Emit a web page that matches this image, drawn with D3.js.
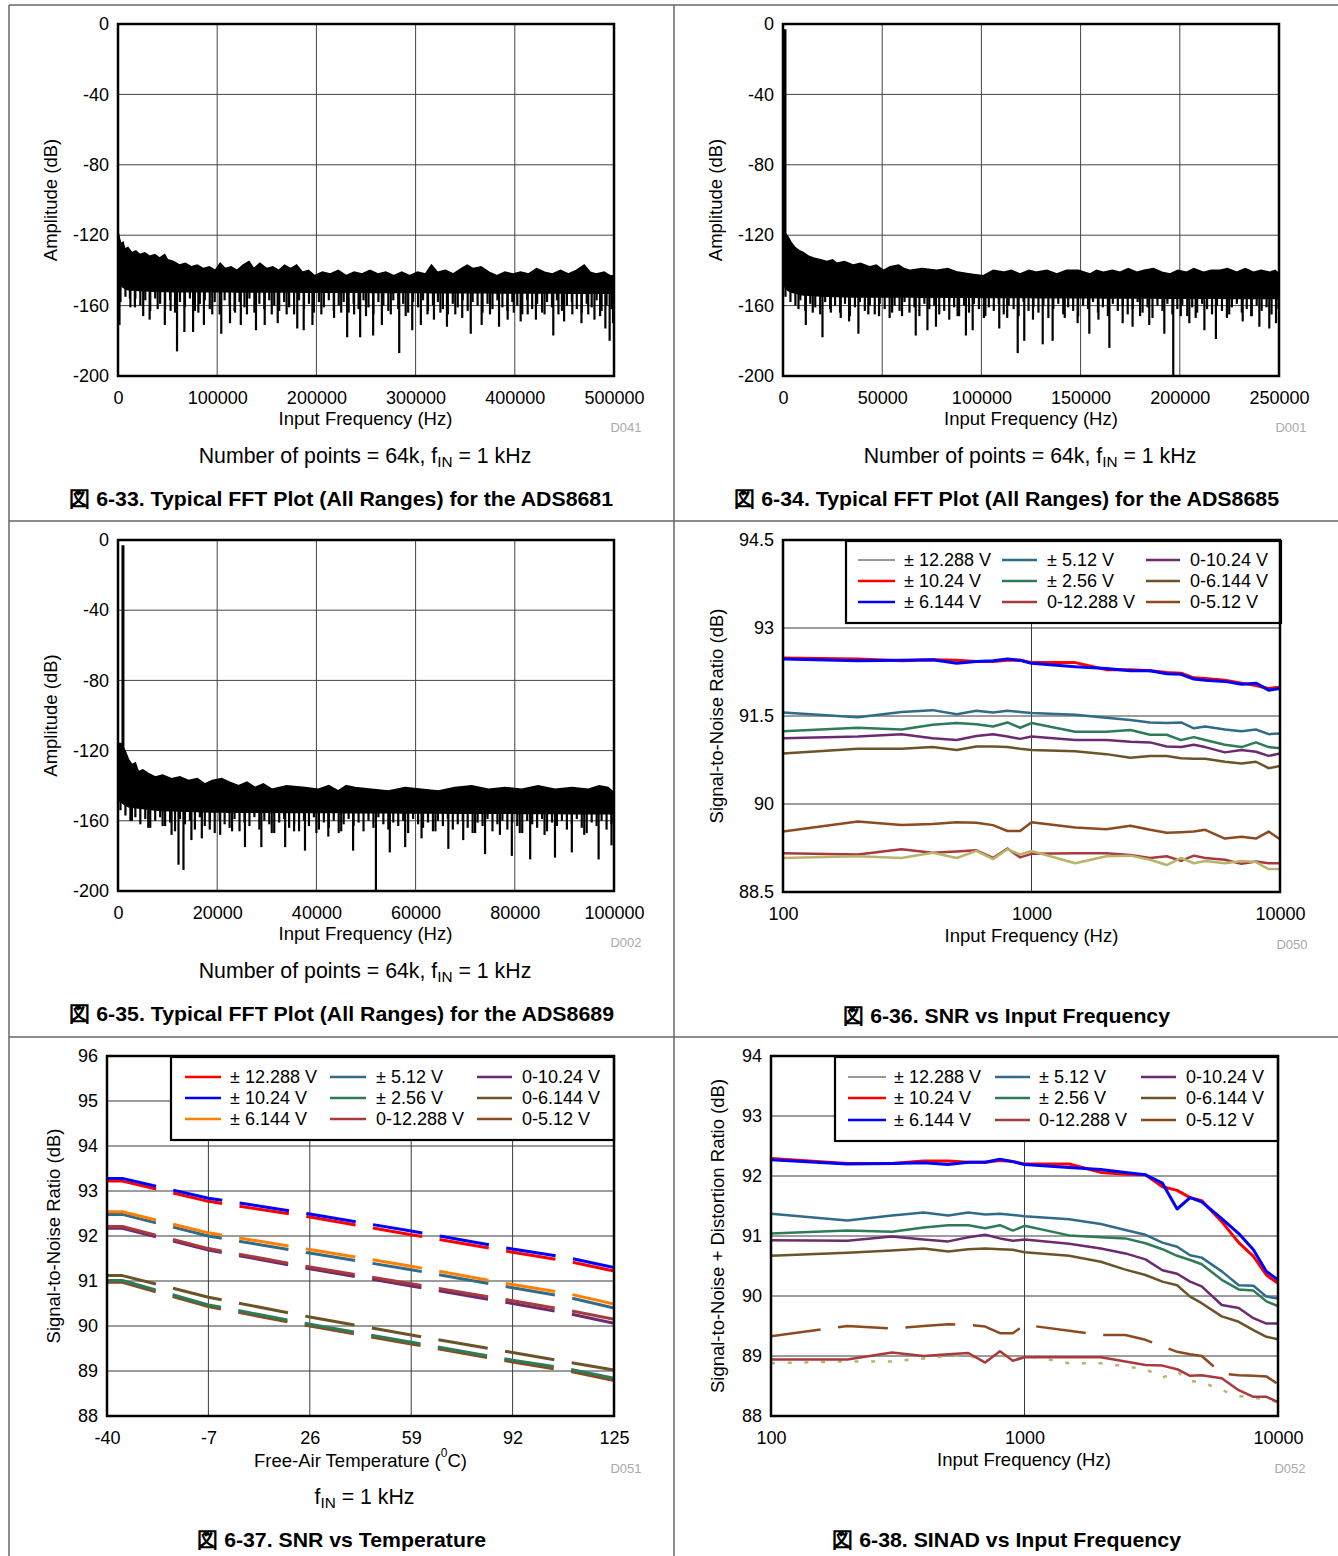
<!DOCTYPE html>
<html><head><meta charset="utf-8">
<script src="https://cdn.jsdelivr.net/npm/d3@7"></script>
<style>
body{margin:0;background:#fff}
svg{display:block;font-family:"Liberation Sans",Arial,Helvetica,sans-serif}
</style></head><body>
<svg id="c" width="1338" height="1556"></svg>
<script>
// ---------------- DATA ----------------
// FFT ADS8681 (0-500 kHz): [frequency Hz, dB]
const fft8681Top = [[0,-118],[1500,-122],[3000,-125],[5000,-124],[7000,-128],[10000,-127],[14000,-130],[18000,-129],[22000,-131],[27000,-130],[32000,-132],[37000,-131],[42000,-133],[47000,-131],[50000,-134],[56000,-135],[62000,-137],[68000,-136],[74000,-138],[80000,-137],[86000,-139],[92000,-138],[98000,-140],[103000,-136],[108000,-139],[114000,-138],[120000,-140],[126000,-137],[132000,-135],[137000,-139],[143000,-136],[150000,-139],[156000,-138],[162000,-140],[168000,-137],[174000,-139],[180000,-137],[186000,-141],[192000,-140],[198000,-143],[206000,-141],[214000,-142],[222000,-140],[230000,-143],[238000,-141],[246000,-142],[254000,-140],[262000,-142],[270000,-141],[278000,-143],[286000,-141],[294000,-143],[302000,-141],[310000,-142],[316000,-137],[322000,-141],[330000,-140],[338000,-142],[346000,-139],[352000,-137],[358000,-139],[366000,-138],[374000,-141],[382000,-143],[390000,-141],[398000,-142],[406000,-141],[414000,-142],[422000,-139],[430000,-141],[438000,-142],[446000,-140],[454000,-142],[462000,-140],[470000,-137],[476000,-141],[482000,-142],[490000,-141],[496000,-143],[500000,-143]];
const fft8681Solid = [[0,-148],[10000,-151],[40000,-152],[500000,-153]];
const fft8681BinStep = 5000;
const fft8681Bins = [-158,-155,-161,-156,-160,-157,-163,-156,-159,-162,-157,-164,-158,-161,-156,-163,-159,-157,-162,-158,-165,-157,-160,-163,-158,-161,-156,-164,-159,-162,-157,-160,-163,-158,-161,-165,-157,-162,-159,-164,-158,-161,-157,-163,-160,-158,-164,-159,-162,-157,-161,-165,-158,-160,-163,-157,-162,-159,-164,-158,-161,-157,-163,-160,-158,-162,-165,-159,-161,-157,-163,-158,-160,-164,-159,-162,-157,-161,-163,-158,-160,-165,-157,-162,-159,-164,-158,-161,-157,-163,-160,-158,-162,-164,-159,-161,-157,-163,-160,-162];
const fft8681Spikes = [[1500,-171],[12000,-156],[17000,-161],[25400,-166],[31900,-168],[40000,-162],[47200,-171],[53000,-163],[59500,-186],[66900,-175],[75700,-175],[81000,-164],[86600,-171],[95000,-165],[104100,-176],[112900,-170],[118000,-164],[123800,-171],[130000,-165],[139100,-174],[147900,-171],[155000,-165],[161000,-170],[170000,-165],[180700,-173],[187200,-174],[196000,-171],[205000,-165],[217800,-167],[225000,-164],[231000,-178],[238000,-165],[244100,-178],[250000,-166],[257200,-177],[266000,-171],[275000,-165],[283500,-187],[290000,-166],[296600,-174],[305300,-171],[312000,-165],[318500,-168],[325000,-164],[331600,-172],[340000,-165],[347000,-167],[355600,-176],[366600,-171],[375000,-165],[384100,-172],[392800,-168],[399000,-164],[405900,-169],[413000,-165],[421300,-168],[430000,-165],[438800,-177],[444000,-165],[449700,-169],[458000,-165],[467200,-170],[474000,-165],[480300,-168],[486000,-166],[491300,-173],[495600,-180],[499000,-170]];

// FFT ADS8685 (0-250 kHz)
const fft8685Top = [[0,-119],[1200,-119],[2500,-121],[4000,-124],[6000,-127],[8500,-129],[10300,-130],[13000,-132],[15300,-133],[19000,-134],[22100,-135],[25000,-134],[27100,-136],[31000,-135],[35500,-137],[39000,-136],[43900,-138],[47000,-137],[50600,-140],[54000,-138],[58300,-137],[61000,-139],[64200,-140],[70000,-139],[77500,-140],[83000,-139],[88000,-141],[94300,-142],[101000,-143],[106000,-140],[111100,-141],[115000,-140],[119500,-142],[124000,-140],[127900,-141],[133000,-140],[138000,-142],[143000,-140],[148900,-140],[154800,-142],[158000,-140],[161500,-141],[166000,-140],[169900,-141],[174000,-139],[178300,-141],[182000,-140],[186700,-139],[191000,-141],[195100,-142],[199000,-140],[203500,-141],[207000,-139],[211900,-141],[216000,-140],[220300,-140],[224000,-139],[228700,-141],[233000,-139],[237100,-141],[241000,-140],[245500,-141],[248000,-140],[250000,-142]];
const fft8685Solid = [[0,-148],[3000,-152],[10000,-154],[30000,-155],[250000,-156]];
const fft8685BinStep = 2500;
const fft8685Bins = [-155,-158,-160,-157,-163,-159,-161,-165,-158,-162,-160,-164,-159,-166,-161,-158,-163,-160,-165,-159,-162,-167,-160,-163,-158,-164,-161,-166,-159,-162,-160,-165,-163,-158,-161,-166,-160,-164,-159,-162,-167,-161,-163,-159,-165,-160,-162,-166,-158,-163,-161,-164,-160,-167,-162,-159,-165,-161,-163,-166,-160,-162,-158,-164,-161,-166,-159,-163,-160,-165,-162,-158,-164,-161,-167,-160,-163,-159,-165,-162,-160,-166,-161,-164,-159,-162,-165,-160,-163,-167,-161,-159,-164,-162,-166,-160,-163,-161,-165,-162];
const fft8685Spikes = [[1500,-147],[7800,-162],[11500,-171],[15000,-164],[19900,-178],[24100,-164],[29100,-167],[33300,-169],[38000,-176],[43000,-165],[48400,-166],[55000,-164],[60000,-166],[66900,-177],[72800,-174],[77100,-172],[83800,-168],[88000,-166],[92200,-177],[95600,-174],[102000,-166],[109000,-173],[113000,-167],[118300,-187],[121600,-180],[126000,-168],[130900,-182],[135900,-180],[142000,-167],[148500,-170],[154400,-176],[159000,-168],[164500,-184],[171200,-170],[176200,-172],[180000,-166],[184600,-171],[192200,-176],[196700,-200],[200500,-166],[204800,-170],[208000,-167],[212400,-174],[218200,-179],[224900,-165],[231700,-169],[236000,-166],[240100,-172],[245100,-173],[248500,-170]];

// FFT ADS8689 (0-100 kHz)
const fft8689Top = [[0,-116],[600,-116],[1000,-118],[1400,-120],[2100,-125],[2800,-128],[3500,-127],[4100,-132],[5000,-131],[6100,-133],[7500,-135],[9000,-134],[10800,-136],[12500,-135],[14200,-137],[16000,-136],[17500,-139],[19000,-137],[20900,-136],[22500,-138],[24300,-140],[26000,-138],[27600,-141],[29300,-139],[31000,-142],[34000,-140],[37700,-141],[40400,-142],[42500,-140],[44400,-143],[46000,-140],[47800,-141],[51100,-142],[54500,-143],[57900,-141],[61200,-142],[64600,-143],[67900,-141],[71300,-140],[74700,-142],[78000,-141],[81400,-142],[84700,-140],[88100,-142],[91500,-141],[94800,-142],[97000,-140],[98800,-141],[100000,-144]];
const fft8689Solid = [[0,-148],[2000,-152],[8000,-154],[20000,-155],[100000,-156]];
const fft8689BinStep = 1000;
const fft8689Bins = [-154,-157,-160,-158,-162,-159,-164,-160,-158,-163,-161,-166,-159,-162,-160,-165,-158,-163,-161,-167,-160,-162,-164,-159,-166,-161,-163,-158,-165,-160,-162,-167,-161,-159,-164,-162,-166,-160,-163,-158,-165,-161,-164,-160,-167,-162,-159,-163,-161,-166,-160,-164,-158,-162,-165,-161,-163,-160,-167,-159,-162,-164,-161,-166,-160,-163,-159,-165,-162,-160,-164,-167,-161,-163,-159,-166,-162,-160,-165,-161,-163,-167,-160,-162,-164,-159,-166,-161,-163,-160,-165,-162,-159,-164,-167,-161,-163,-160,-165,-162];
const fft8689Spikes = [[2800,-160],[6100,-164],[9000,-163],[10800,-168],[12200,-185],[13200,-188],[14800,-171],[16900,-170],[18500,-165],[20600,-168],[23000,-166],[25600,-175],[28900,-175],[31000,-167],[33700,-175],[35500,-166],[37700,-177],[40000,-167],[42400,-169],[45000,-166],[47400,-177],[52000,-200],[54800,-178],[57900,-175],[61200,-170],[64000,-166],[66600,-176],[69600,-171],[72000,-167],[74000,-179],[77000,-168],[79400,-180],[81000,-167],[83100,-182],[86000,-168],[88100,-181],[91500,-178],[94000,-168],[96900,-182],[99500,-174]];
const fftSignal = [1000, -3]; // fundamental tone

const fftYTicks = [0,-40,-80,-120,-160,-200];
const fft8681XTicks = [0,100000,200000,300000,400000,500000];
const fft8685XTicks = [0,50000,100000,150000,200000,250000];
const fft8689XTicks = [0,20000,40000,60000,80000,100000];

// Range labels (legend)
const rangeLabels = ['± 12.288 V','± 10.24 V','± 6.144 V','± 5.12 V','± 2.56 V','0-12.288 V','0-10.24 V','0-6.144 V','0-5.12 V'];

// SNR vs input frequency
const freqs = [100,200,300,400,500,600,700,800,900,1000,1500,2000,2500,3000,3500,4000,4500,5000,6000,7000,8000,9000,10000];
const snrFreqTicks = [100,1000,10000];
const snrYTicks = [88.5,90,91.5,93,94.5];
const snr_pm10_24 = [92.49,92.47,92.44,92.46,92.45,92.43,92.43,92.45,92.45,92.41,92.41,92.29,92.29,92.27,92.24,92.23,92.15,92.14,92.11,92.06,92.02,91.97,91.99];
const snr_pm6_144 = [92.47,92.44,92.45,92.46,92.40,92.43,92.44,92.47,92.45,92.40,92.34,92.31,92.27,92.27,92.22,92.21,92.13,92.11,92.09,92.04,92.06,91.94,91.97];
const snr_pm5_12 = [91.56,91.48,91.57,91.60,91.53,91.59,91.56,91.59,91.57,91.55,91.52,91.47,91.43,91.39,91.38,91.39,91.29,91.32,91.27,91.24,91.27,91.19,91.20];
const snr_pm2_56 = [91.24,91.30,91.27,91.35,91.38,91.36,91.32,91.39,91.30,91.38,91.23,91.23,91.26,91.18,91.18,91.09,91.14,91.09,91.01,90.97,91.05,90.97,90.95];
const snr_0_10_24 = [91.12,91.15,91.19,91.12,91.09,91.16,91.19,91.15,91.11,91.15,91.09,91.09,91.06,91.05,90.98,90.97,91.01,90.97,90.88,90.92,90.89,90.82,90.86];
const snr_0_6_144 = [90.86,90.94,90.94,90.97,90.92,90.98,90.98,90.97,90.94,90.92,90.90,90.85,90.79,90.82,90.82,90.78,90.77,90.77,90.72,90.69,90.72,90.61,90.65];
const snr_0_5_12 = [89.53,89.70,89.64,89.66,89.69,89.68,89.64,89.54,89.54,89.69,89.60,89.57,89.63,89.56,89.51,89.52,89.53,89.56,89.41,89.44,89.41,89.53,89.40];
const snr_0_12_288 = [89.16,89.14,89.23,89.17,89.19,89.21,89.08,89.24,89.09,89.15,89.16,89.16,89.13,89.08,89.11,89.03,89.12,89.08,89.05,88.98,89.02,88.99,88.99];
const snr_khaki = [89.08,89.11,89.08,89.17,89.08,89.20,89.06,89.23,89.14,89.20,88.99,89.11,89.12,89.05,88.96,89.08,88.99,89.03,88.99,89.03,89.01,88.89,88.89];

// SNR vs temperature
const temps = [-40,-35,-7,26,59,92,110,125];
const tempTicks = [-40,-7,26,59,92,125];
const tempYTicks = [88,89,90,91,92,93,94,95,96];
const t_pm12_288 = [93.22,93.22,92.77,92.42,92.03,91.64,91.44,91.22];
const t_pm10_24 = [93.28,93.28,92.84,92.49,92.11,91.71,91.52,91.30];
const t_pm6_144 = [92.54,92.54,92.07,91.70,91.33,90.92,90.72,90.49];
const t_pm5_12 = [92.48,92.48,92.00,91.62,91.25,90.85,90.64,90.40];
const t_pm2_56 = [91.01,91.01,90.47,90.04,89.64,89.24,89.05,88.84];
const t_0_12_288 = [92.21,92.21,91.72,91.31,90.94,90.56,90.35,90.15];
const t_0_10_24 = [92.17,92.17,91.69,91.27,90.89,90.50,90.28,90.06];
const t_0_6_144 = [91.12,91.12,90.64,90.20,89.80,89.41,89.20,89.02];
const t_0_5_12 = [90.97,90.97,90.43,90.00,89.60,89.20,89.00,88.79];

// SINAD vs input frequency
const sinadYTicks = [88,89,90,91,92,93,94];
const sinad_pm10_24 = [92.29,92.21,92.21,92.25,92.25,92.23,92.23,92.26,92.24,92.20,92.20,92.06,92.03,92.02,91.82,91.76,91.64,91.59,91.24,90.89,90.66,90.35,90.21];
const sinad_pm6_144 = [92.27,92.20,92.21,92.22,92.19,92.23,92.23,92.28,92.24,92.19,92.14,92.11,92.06,92.02,91.88,91.45,91.64,91.57,91.29,91.04,90.77,90.41,90.27];
const sinad_pm5_12 = [91.37,91.26,91.34,91.39,91.34,91.39,91.36,91.37,91.35,91.33,91.28,91.20,91.10,91.02,90.89,90.82,90.68,90.64,90.41,90.18,90.17,89.99,89.96];
const sinad_pm2_56 = [91.04,91.09,91.07,91.14,91.18,91.18,91.13,91.18,91.09,91.17,91.01,90.98,90.96,90.88,90.78,90.67,90.60,90.53,90.27,90.11,90.09,89.91,89.83];
const sinad_0_10_24 = [90.93,90.92,90.99,90.94,90.91,90.98,91.02,90.96,90.92,90.94,90.87,90.79,90.71,90.61,90.43,90.37,90.24,90.16,89.85,89.80,89.63,89.54,89.54];
const sinad_0_6_144 = [90.67,90.72,90.76,90.79,90.74,90.78,90.79,90.78,90.77,90.73,90.67,90.57,90.44,90.35,90.24,90.18,89.99,89.88,89.66,89.57,89.43,89.32,89.28];
const sinad_0_5_12 = [89.33,89.50,89.46,89.50,89.53,89.52,89.49,89.38,89.38,89.52,89.42,89.35,89.35,89.27,89.16,89.07,89.03,89.00,88.71,88.68,88.67,88.66,88.53];
const sinad_0_12_288 = [88.94,88.94,89.06,89.00,89.03,89.05,88.89,89.08,88.92,88.98,88.98,88.98,88.91,88.85,88.84,88.78,88.67,88.68,88.63,88.43,88.32,88.32,88.23];
const sinad_khaki = [88.88,88.91,88.91,88.96,89.00,89.01,88.91,89.03,88.92,89.01,88.88,88.88,88.83,88.78,88.64,88.74,88.58,88.57,88.43,88.33,88.31,88.26,88.24];

// ---------------- STYLE ----------------
const COL = {thin:'#333', red:'#ff0000', blue:'#0000ff', orange:'#ff8000', teal:'#306b8a', green:'#2d7b57',
  redBrown:'#a83a3e', purple:'#6c2b70', olive:'#6b5427', brown:'#8b4a1f', khaki:'#b9b46c'};
const FONT = '"Liberation Sans", Arial, Helvetica, sans-serif';
const svg = d3.select('#c');

function txt(g, x, y, s, o = {}) {
  const t = g.append('text').attr('x', x).attr('y', y).attr('font-size', o.size || 18)
    .attr('text-anchor', o.anchor || 'middle').attr('dominant-baseline', 'central')
    .attr('fill', o.fill || '#000').text(s);
  if (o.bold) t.attr('font-weight', 'bold');
  if (o.len) t.attr('textLength', o.len).attr('lengthAdjust', 'spacingAndGlyphs');
  if (o.rot) t.attr('transform', `rotate(-90,${x},${y})`);
  return t;
}
function finText(g, x, y, prefix, size) {
  const t = g.append('text').attr('x', x).attr('y', y).attr('font-size', size)
    .attr('text-anchor', 'middle').attr('dominant-baseline', 'central');
  t.append('tspan').text(prefix + 'f');
  t.append('tspan').attr('font-size', size * 0.72).attr('dy', 5).text('IN');
  t.append('tspan').attr('dy', -5).text(' = 1 kHz');
}

// page frame / dividers
const fr = svg.append('g').attr('stroke', '#666').attr('stroke-width', 1.5);
fr.append('line').attr('x1', 9).attr('x2', 1338).attr('y1', 5).attr('y2', 5);
fr.append('line').attr('x1', 9).attr('x2', 9).attr('y1', 5).attr('y2', 1556);
fr.append('line').attr('x1', 674).attr('x2', 674).attr('y1', 5).attr('y2', 1556);
fr.append('line').attr('x1', 9).attr('x2', 1338).attr('y1', 521).attr('y2', 521);
fr.append('line').attr('x1', 9).attr('x2', 1338).attr('y1', 1037).attr('y2', 1037);

let clipN = 0;
function clip(p) {
  const id = 'cl' + (clipN++);
  svg.append('clipPath').attr('id', id).append('rect').attr('x', p.l).attr('y', p.t)
    .attr('width', p.r - p.l).attr('height', p.b - p.t);
  return `url(#${id})`;
}
function axes(g, p, x, y, xt, yt) {
  const ya = g.append('g').attr('transform', `translate(${p.l},0)`)
    .call(d3.axisLeft(y).tickValues(yt).tickSize(0).tickPadding(9).tickFormat(d => String(d)));
  ya.select('.domain').remove();
  ya.attr('font-family', FONT).attr('font-size', 18);
  const xa = g.append('g').attr('transform', `translate(0,${p.b})`)
    .call(d3.axisBottom(x).tickValues(xt).tickSize(0).tickPadding(15).tickFormat(d => String(d)));
  xa.select('.domain').remove();
  xa.attr('font-family', FONT).attr('font-size', 18);
}
function grid(g, p, x, y, gx, gy, color) {
  g.append('g').selectAll('line').data(gy).join('line')
    .attr('x1', p.l).attr('x2', p.r).attr('y1', d => y(d)).attr('y2', d => y(d))
    .attr('stroke', color || '#333').attr('stroke-width', 1);
  g.append('g').selectAll('line').data(gx).join('line')
    .attr('y1', p.t).attr('y2', p.b).attr('x1', d => x(d)).attr('x2', d => x(d))
    .attr('stroke', color || '#333').attr('stroke-width', 1);
}
function border(g, p) {
  g.append('rect').attr('x', p.l).attr('y', p.t).attr('width', p.r - p.l).attr('height', p.b - p.t)
    .attr('fill', 'none').attr('stroke', '#000').attr('stroke-width', 2.5);
}

// ---------------- FFT PANELS ----------------
function fftPanel(p) {
  const g = svg.append('g');
  const x = d3.scaleLinear().domain([0, p.xmax]).range([p.l, p.r]);
  const y = d3.scaleLinear().domain([-200, 0]).range([p.b, p.t]);
  grid(g, p, x, y, p.xt.slice(1, -1), [-40, -80, -120, -160], '#444');
  const dg = g.append('g').attr('clip-path', clip(p));
  const solidAt = d3.scaleLinear().domain(p.solid.map(d => d[0])).range(p.solid.map(d => d[1])).clamp(true);
  const area = d3.area().x(d => x(d[0])).y0(d => y(solidAt(d[0]))).y1(d => y(d[1]));
  dg.append('path').datum(p.top).attr('d', area).attr('fill', '#000').attr('stroke', '#000')
    .attr('stroke-width', 1.6).attr('stroke-linejoin', 'miter');
  const bins = p.bins.map((v, i) => [i * p.step + p.step / 2, v]);
  dg.selectAll('line.bn').data(bins).join('line').attr('class', 'bn')
    .attr('x1', d => x(d[0])).attr('x2', d => x(d[0]))
    .attr('y1', d => y(solidAt(d[0]) + 2)).attr('y2', d => y(d[1]))
    .attr('stroke', '#000').attr('stroke-width', 2.2);
  dg.selectAll('line.sp').data(p.spikes).join('line').attr('class', 'sp')
    .attr('x1', d => x(d[0])).attr('x2', d => x(d[0]))
    .attr('y1', d => y(solidAt(d[0]) + 2)).attr('y2', d => y(d[1]))
    .attr('stroke', '#000').attr('stroke-width', 2.2);
  if (p.signal) {
    dg.append('line').attr('x1', x(fftSignal[0])).attr('x2', x(fftSignal[0]))
      .attr('y1', y(fftSignal[1])).attr('y2', y(solidAt(fftSignal[0])))
      .attr('stroke', '#000').attr('stroke-width', 3);
  }
  border(g, p);
  axes(g, p, x, y, p.xt, fftYTicks);
  txt(g, p.ytx, (p.t + p.b) / 2, 'Amplitude (dB)', {rot: true, size: 18.5});
  txt(g, p.xtc, p.b + 42, 'Input Frequency (Hz)', {size: 18.5});
  txt(g, p.r + 12, p.b + 51, p.code, {size: 13, fill: '#aaa'});
  finText(g, p.notec, p.b + 80, 'Number of points = 64k, ', 21.3);
  txt(g, p.capc, p.b + 122, p.caption, {bold: true, size: 21, len: p.caplen});
}
fftPanel({l: 118, r: 614, t: 24, b: 376, xmax: 500000, xt: fft8681XTicks, top: fft8681Top, solid: fft8681Solid,
  step: fft8681BinStep, bins: fft8681Bins,
  spikes: fft8681Spikes, signal: false, ytx: 50, xtc: 365.5, code: 'D041', notec: 365, capc: 341, caplen: 544,
  caption: '図 6-33. Typical FFT Plot (All Ranges) for the ADS8681'});
fftPanel({l: 783, r: 1279, t: 24, b: 376, xmax: 250000, xt: fft8685XTicks, top: fft8685Top, solid: fft8685Solid,
  step: fft8685BinStep, bins: fft8685Bins,
  spikes: fft8685Spikes, signal: true, ytx: 715, xtc: 1031, code: 'D001', notec: 1030, capc: 1006.5, caplen: 545,
  caption: '図 6-34. Typical FFT Plot (All Ranges) for the ADS8685'});
fftPanel({l: 118, r: 614, t: 540, b: 891, xmax: 100000, xt: fft8689XTicks, top: fft8689Top, solid: fft8689Solid,
  step: fft8689BinStep, bins: fft8689Bins,
  spikes: fft8689Spikes, signal: true, ytx: 50, xtc: 365.5, code: 'D002', notec: 365, capc: 341.5, caplen: 545,
  caption: '図 6-35. Typical FFT Plot (All Ranges) for the ADS8689'});

// ---------------- LINE PANELS ----------------
function legend(g, box, cols, rows, colors) {
  g.append('rect').attr('x', box.x).attr('y', box.y).attr('width', box.w).attr('height', box.h)
    .attr('fill', '#fff').attr('stroke', '#000').attr('stroke-width', 2.2);
  rangeLabels.forEach((lab, i) => {
    const c = Math.floor(i / 3), r = i % 3, cy = box.y + rows[r];
    const col = colors[i];
    g.append('line').attr('x1', box.x + cols[c][0]).attr('x2', box.x + cols[c][1]).attr('y1', cy).attr('y2', cy)
      .attr('stroke', col).attr('stroke-width', col === COL.thin ? 1 : 2.6);
    txt(g, box.x + cols[c][2], cy, lab, {anchor: 'start', size: 18});
  });
}
function linePanel(p) {
  const g = svg.append('g');
  const x = p.log ? d3.scaleLog().domain(p.xd).range([p.l, p.r]) : d3.scaleLinear().domain(p.xd).range([p.l, p.r]);
  const y = d3.scaleLinear().domain(p.yd).range([p.b, p.t]);
  grid(g, p, x, y, p.gx, p.gy, '#3a3a3a');
  const dg = g.append('g').attr('clip-path', clip(p));
  const line = d3.line().x(d => x(d[0])).y(d => y(d[1]));
  p.series.forEach(s => {
    dg.append('path').datum(p.xs.map((v, i) => [v, s.v[i]])).attr('d', line)
      .attr('fill', 'none').attr('stroke', s.c).attr('stroke-width', s.w || 2.5)
      .attr('stroke-linejoin', 'round').attr('stroke-dasharray', s.dash || null);
  });
  legend(g, p.box, p.cols, p.rows, p.legendColors);
  border(g, p);
  axes(g, p, x, y, p.xt, p.yt);
  txt(g, p.ytx, (p.t + p.b) / 2, p.ytitle, {rot: true, size: 18.5});
  p.xtitle(g);
  txt(g, p.r + 12, p.b + 52, p.code, {size: 13, fill: '#aaa'});
  txt(g, p.capc, p.capy, p.caption, {bold: true, size: 21, len: p.caplen});
}

// SNR vs Input Frequency
linePanel({l: 783, r: 1280, t: 540, b: 892, log: true, xd: [100, 10000], yd: [88.5, 94.5],
  xs: freqs, xt: snrFreqTicks, yt: snrYTicks, gx: [1000], gy: [90, 91.5, 93],
  series: [
    {v: snr_0_6_144, c: COL.olive}, {v: snr_0_10_24, c: COL.purple}, {v: snr_pm2_56, c: COL.green},
    {v: snr_pm5_12, c: COL.teal}, {v: snr_0_5_12, c: COL.brown}, {v: snr_0_12_288, c: COL.redBrown},
    {v: snr_khaki, c: COL.khaki}, {v: snr_pm10_24, c: COL.red, w: 3}, {v: snr_pm6_144, c: COL.blue, w: 3}],
  box: {x: 846, y: 541, w: 435, h: 82}, cols: [[12, 49, 58], [156, 191, 201], [300, 334, 344]], rows: [19, 40, 61],
  legendColors: [COL.thin, COL.red, COL.blue, COL.teal, COL.green, COL.redBrown, COL.purple, COL.olive, COL.brown],
  ytx: 716, ytitle: 'Signal-to-Noise Ratio (dB)',
  xtitle: g => txt(g, 1031.5, 935, 'Input Frequency (Hz)', {size: 18.5}),
  code: 'D050', capc: 1006.5, capy: 1015, caplen: 327, caption: '図 6-36. SNR vs Input Frequency'});

// SNR vs Temperature
linePanel({l: 107, r: 614, t: 1056, b: 1416, log: false, xd: [-40, 125], yd: [88, 96],
  xs: temps, xt: tempTicks, yt: tempYTicks, gx: [-7, 26, 59, 92], gy: [89, 90, 91, 92, 93, 94, 95],
  series: [
    {v: t_0_5_12, c: COL.brown, w: 3, dash: '50,17.6'}, {v: t_pm2_56, c: COL.green, w: 3, dash: '50,17.6'},
    {v: t_0_6_144, c: COL.olive, w: 3, dash: '50,17.6'}, {v: t_0_10_24, c: COL.purple, w: 3, dash: '50,17.6'},
    {v: t_0_12_288, c: COL.redBrown, w: 3, dash: '50,17.6'}, {v: t_pm5_12, c: COL.teal, w: 3, dash: '50,17.6'},
    {v: t_pm6_144, c: COL.orange, w: 3, dash: '50,17.6'}, {v: t_pm12_288, c: COL.red, w: 3, dash: '50,17.6'},
    {v: t_pm10_24, c: COL.blue, w: 3, dash: '50,17.6'}],
  box: {x: 171, y: 1057, w: 443, h: 83}, cols: [[14, 50, 59], [159, 195, 205], [306, 341, 351]], rows: [20, 41, 62],
  legendColors: [COL.red, COL.blue, COL.orange, COL.teal, COL.green, COL.redBrown, COL.purple, COL.olive, COL.brown],
  ytx: 53, ytitle: 'Signal-to-Noise Ratio (dB)',
  xtitle: g => {
    const t = g.append('text').attr('x', 360.5).attr('y', 1460).attr('font-size', 18.5)
      .attr('text-anchor', 'middle').attr('dominant-baseline', 'central');
    t.append('tspan').text('Free-Air Temperature (');
    t.append('tspan').attr('font-size', 12).attr('dy', -7).text('0');
    t.append('tspan').attr('dy', 7).text('C)');
    finText(g, 364.5, 1497, '', 21.3);
  },
  code: 'D051', capc: 341.5, capy: 1539, caplen: 289, caption: '図 6-37. SNR vs Temperature'});

// SINAD vs Input Frequency
linePanel({l: 771, r: 1278, t: 1056, b: 1416, log: true, xd: [100, 10000], yd: [88, 94],
  xs: freqs, xt: snrFreqTicks, yt: sinadYTicks, gx: [1000], gy: [89, 90, 91, 92, 93],
  series: [
    {v: sinad_0_6_144, c: COL.olive}, {v: sinad_0_10_24, c: COL.purple}, {v: sinad_pm2_56, c: COL.green},
    {v: sinad_pm5_12, c: COL.teal}, {v: sinad_0_5_12, c: COL.brown, dash: '50,17.6'},
    {v: sinad_khaki, c: COL.khaki, dash: '4,12.7'}, {v: sinad_0_12_288, c: COL.redBrown},
    {v: sinad_pm10_24, c: COL.red, w: 3}, {v: sinad_pm6_144, c: COL.blue, w: 3}],
  box: {x: 835, y: 1057, w: 443, h: 84}, cols: [[13, 51, 59], [160, 195, 204], [306, 341, 351]], rows: [20, 41, 63],
  legendColors: [COL.thin, COL.red, COL.blue, COL.teal, COL.green, COL.redBrown, COL.purple, COL.olive, COL.brown],
  ytx: 717, ytitle: 'Signal-to-Noise + Distortion Ratio (dB)',
  xtitle: g => txt(g, 1024, 1459, 'Input Frequency (Hz)', {size: 18.5}),
  code: 'D052', capc: 1006.5, capy: 1539, caplen: 349, caption: '図 6-38. SINAD vs Input Frequency'});
</script>
</body></html>
